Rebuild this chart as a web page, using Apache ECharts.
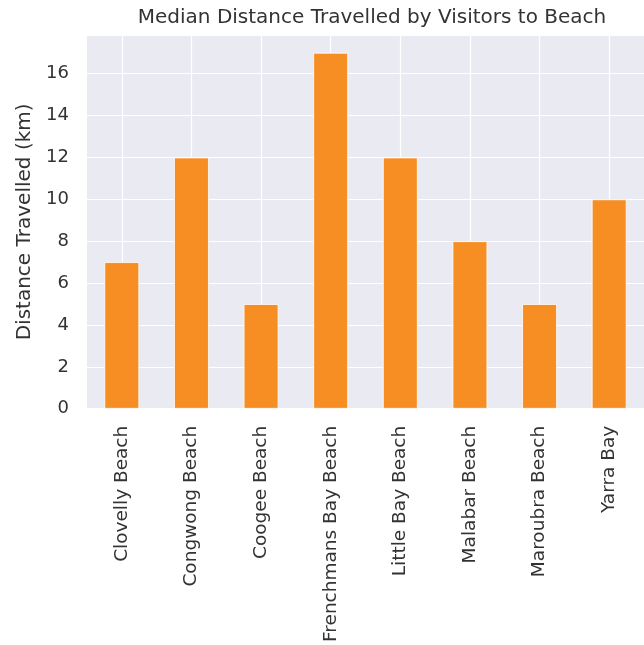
<!DOCTYPE html>
<html><head><meta charset="utf-8">
<script src="https://cdn.jsdelivr.net/npm/echarts@6/dist/echarts.min.js"></script>
<style>html,body{margin:0;padding:0;background:#fff}#c{width:644px;height:645px}</style>
</head><body><div id="c"></div>
<script>
const categories = ['Clovelly Beach','Congwong Beach','Coogee Beach','Frenchmans Bay Beach','Little Bay Beach','Malabar Beach','Maroubra Beach','Yarra Bay'];
const distances = [7, 12, 5, 17, 12, 8, 5, 10];
const yTicks = [0, 2, 4, 6, 8, 10, 12, 14, 16];
const titleText = 'Median Distance Travelled by Visitors to Beach';
const yName = 'Distance Travelled (km)';

const chart = echarts.init(document.getElementById('c'), null, {renderer:'canvas'});
const font = 'DejaVu Sans';
const txt = '#333333';
chart.setOption({
  animation: false,
  title: {text: titleText, left: 367, top: 3, textAlign: 'center',
    textStyle: {fontFamily: font, fontSize: 20, fontWeight: 'normal', color: txt}},
  grid: {left: 87, top: 35, width: 560, height: 374, backgroundColor: '#EAEAF2', show: true, borderWidth: 0},
  xAxis: {type: 'category', data: categories,
    axisLine: {show: false}, axisTick: {show: false},
    splitLine: {show: true, alignWithLabel: true, lineStyle: {color: '#ffffff', width: 1.2}},
    axisLabel: {rotate: 90, margin: 17, fontFamily: font, fontSize: 18.5, color: txt}},
  yAxis: {type: 'value', min: 0, max: 17.85, interval: 2,
    name: yName, nameLocation: 'middle', nameGap: 50,
    nameTextStyle: {fontFamily: font, fontSize: 20, color: txt},
    axisLine: {show: false}, axisTick: {show: false},
    splitLine: {show: true, lineStyle: {color: '#ffffff', width: 1.2}},
    axisLabel: {fontFamily: font, fontSize: 18, color: txt, margin: 18,
      formatter: v => yTicks.includes(v) ? String(v) : ''}},
  series: [{type: 'bar', data: distances, barWidth: '50%',
    itemStyle: {color: '#F68E23', borderColor: '#ffffff', borderWidth: 0.8}}]
});
</script></body></html>
